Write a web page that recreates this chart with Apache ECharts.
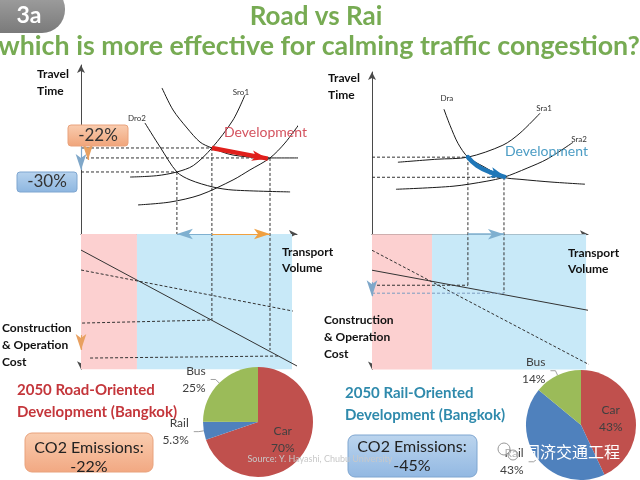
<!DOCTYPE html>
<html><head><meta charset="utf-8">
<script src="https://cdn.jsdelivr.net/npm/echarts@6.0.0/dist/echarts.min.js"></script>
<style>html,body{margin:0;padding:0;background:#fff}#c{width:640px;height:480px}</style>
</head><body><div id="c"></div>
<script>
// ---------- data (x = transport volume, y>0 = travel time, y<0 = cost) ----------
// Road side
const sro1 = [[22.7,33.7],[35,34.5],[44.4,36.7],[52,40.5],[60.6,50.9],[70.4,67.5],[75.9,82.2]];
const sro2 = [[26.4,17.2],[41.2,18.9],[55.1,23.1],[70.4,32.0],[78.2,37.9],[87.5,45.0],[94.4,53.8],[101.4,65.7]];
const dro1 = [[37.5,86.4],[42.6,73.4],[49.1,62.7],[55.1,54.4],[60.6,50.9],[70.4,46.7],[87.5,45.0],[102.3,45.0]];
const dro2 = [[29.6,65.7],[36.6,51.5],[44.4,36.7],[50.5,32.0],[61.1,27.8],[70.4,26.0],[96.8,24.9]];
const roadCostSolid = [[0,-9.5],[100,-78.1]];
const roadCostDashed = [[0,-21.3],[98.1,-45.6]];
const roadGuides = [
  [[0,50.9],[60.6,50.9]], [[0,45.0],[87.5,45.0]], [[0,36.7],[44.4,36.7]],
  [[44.4,36.7],[44.4,0]], [[60.6,50.9],[60.6,-50.9]], [[87.5,45.0],[87.5,-68.6]],
  [[0.5,-52.7],[60.6,-50.9]], [[4.2,-73.4],[92.1,-72.2]]
];
const roadZones = [0, 25.9, 97.7];
// Rail side
const dra = [[33.3,74.0],[36.1,64.5],[39.8,53.8],[44.4,45.6],[51.4,40.2],[61.1,33.7],[68.5,32.5],[83.8,30.8],[98.6,29.6]];
const sra1 = [[12.0,42.6],[30.1,44.4],[44.4,45.6],[60.6,52.7],[68.5,59.8],[77.8,71.6]];
const sra2 = [[11.1,26.6],[37.5,28.4],[53.2,31.4],[61.1,33.7],[71.8,39.1],[81.0,44.4],[93.1,54.4]];
const railCostSolid = [[0,-21.3],[100,-45.0]];
const railCostDashed = [[0,-9.5],[101.9,-78.1]];
const railGuides = [
  [[0,45.6],[44.4,45.6]], [[0,33.7],[61.1,33.7]],
  [[44.4,45.6],[44.4,-30.2]], [[61.1,33.7],[61.1,-34.9]], [[0,-30.2],[44.4,-30.2]]
];
const railBlueGuide = [[0,-34.9],[61.1,-34.9]];
const railDevPath = [[44.4,45.6],[48.6,40.6],[54.6,36.7]];
const railDevTip = [62.0,33.7];
const railZones = [0, 27.8, 99.1];
const costFloor = -80;
// modal shares 2050
const shareNames = ['Car','Rail','Bus'];
const roadShare = [70, 5.3, 25];
const railShare = [43, 43, 14];

// ---------- chart ----------
const FONT = 'Lato, "Open Sans", sans-serif';
const chart = echarts.init(document.getElementById('c'), null, {renderer:'canvas'});

function axisPair(gi, yMax){
  return {
    x: {gridIndex:gi, type:'value', min:0, max:100, axisTick:{show:false}, axisLabel:{show:false}, splitLine:{show:false},
        axisLine:{show:true, onZero:true, symbol:['none','arrow'], symbolSize:[6,8], lineStyle:{color:'#4a4a4a', width:1}}},
    y: {gridIndex:gi, type:'value', min:costFloor, max:yMax, axisTick:{show:false}, axisLabel:{show:false}, splitLine:{show:false},
        axisLine:{show:true, onZero:true, symbol:['arrow','arrow'], symbolSize:[6,8], lineStyle:{color:'#4a4a4a', width:1}}}
  };
}
const a0 = axisPair(0, 100), a1 = axisPair(1, 96);

function curve(gi, data, name, atEnd, offset){
  const s = {type:'line', xAxisIndex:gi, yAxisIndex:gi, data:data, smooth:0.3, showSymbol:false, symbol:'none',
    clip:false, silent:true, lineStyle:{color:'#1a1a1a', width:1}, z:3};
  if (name){
    const p = atEnd ? data[data.length-1] : data[0];
    s.markPoint = {symbol:'circle', symbolSize:1, itemStyle:{color:'rgba(0,0,0,0)'}, silent:true,
      data:[{coord:p, label:{show:true, formatter:name, position:'inside', offset:offset, fontSize:8, color:'#333', fontFamily:FONT}}]};
  }
  return s;
}
function seg(gi, data, dashed, color){
  return {type:'line', xAxisIndex:gi, yAxisIndex:gi, data:data, showSymbol:false, symbol:'none', clip:false, silent:true,
    lineStyle:{color:color||'#333', width:1, type: dashed ? [3,2] : 'solid'}, z:2};
}
function arrow(from, to, color, width, size){
  return [{coord:from, lineStyle:{color:color, width:width, type:'solid'}, symbolSize:size},{coord:to}];
}

const series = [];
function zoneSeries(gi, zones, arrows){
  return {type:'line', xAxisIndex:gi, yAxisIndex:gi, data:[], silent:true,
    markArea:{silent:true, data:[
      [{coord:[zones[0],0], itemStyle:{color:'#fcd0d0'}},{coord:[zones[1],costFloor]}],
      [{coord:[zones[1],0], itemStyle:{color:'#c8e9f8'}},{coord:[zones[2],costFloor]}]
    ]},
    markLine:{silent:true, symbol:['none','arrow'], label:{show:false}, animation:false, data:arrows}, z:1};
}
series.push(zoneSeries(0, roadZones, [
  arrow([60.6,0],[44.4,0],'#7fb0d0',1.2,[0,8]),
  arrow([60.6,0],[87.5,0],'#f0a040',1.2,[0,8]),
  arrow([0,52.7],[0,37.9],'#7fa7c9',1.2,[0,7]),
  arrow([3.2,48.5],[3.2,43.8],'#e8a060',1.2,[0,6]),
  arrow([0,-59.8],[0,-68.6],'#e8a060',1.2,[0,6]),
  arrow([60.6,50.9],[86.5,44.6],'#e0201c',4.5,[0,16])
]));
series.push(zoneSeries(1, railZones, [
  arrow([44.4,0],[61.1,0],'#7fb0d0',1.5,[0,9]),
  arrow([0,-28.4],[0,-36.7],'#7fa7c9',1.2,[0,7])
]));
// curved development arrow (rail): smooth body + arrow head
series.push({type:'line', xAxisIndex:1, yAxisIndex:1, data:railDevPath, smooth:0.5, showSymbol:false, symbol:'none',
  clip:false, silent:true, z:4, lineStyle:{color:'#1f77b8', width:4.5, cap:'round'},
  markLine:{silent:true, symbol:['none','arrow'], label:{show:false}, animation:false,
    data:[arrow(railDevPath[railDevPath.length-1], railDevTip, '#1f77b8', 4.5, [0,15])]}});
series.push(curve(0, sro1, 'Sro1', true, [-4,-3]));
series.push(curve(0, sro2, 'Sro2', true, [2,-8]));
series.push(curve(0, dro1, null));
series.push(curve(0, dro2, 'Dro2', false, [-8,-5]));
series.push(seg(0, roadCostSolid, false, '#333'));
series.push(seg(0, roadCostDashed, true));
roadGuides.forEach(g => series.push(seg(0, g, true)));
series.push(curve(1, dra, 'Dra', false, [3,-11]));
series.push(curve(1, sra1, 'Sra1', true, [4,-5]));
series.push(curve(1, sra2, 'Sra2', true, [6,-3]));
series.push(seg(1, railCostSolid, false, '#333'));
series.push(seg(1, railCostDashed, true));
railGuides.forEach(g => series.push(seg(1, g, true)));
series.push(seg(1, railBlueGuide, true, '#7a9cc0'));

const pieColors = {Car:'#c0504d', Rail:'#4f81bd', Bus:'#9bbb59'};
function pie(center, r, vals){
  return {type:'pie', center:center, radius:r, startAngle:90, clockwise:true, silent:true, avoidLabelOverlap:false,
    data: shareNames.map((n,i)=>({name:n, value:vals[i], itemStyle:{color:pieColors[n]},
      label: n==='Car' ? {position:'inside'} : {position:'outside'}})),
    label:{formatter:'{b}\n{c}%', fontSize:12, lineHeight:17, color:'#404040', fontFamily:FONT},
    labelLine:{length:5, length2:5, lineStyle:{color:'#888', width:0.8}}, z:5};
}
series.push(pie([258,422], 55, roadShare));
series.push(pie([581,425], 55, railShare));

function T(x, y, text, font, fill, align, extra){
  return Object.assign({type:'text', x:x, y:y, z:50, silent:true,
    style:Object.assign({text:text, font:font, fill:fill, textAlign:align||'left', textVerticalAlign:'middle'}, extra||{})});
}
function box(x, y, w, h, r, c1, c2, stroke){
  return {type:'rect', z:40, silent:true, shape:{x:x, y:y, width:w, height:h, r:r},
    style:{fill:{type:'linear', x:0, y:0, x2:0, y2:1, colorStops:[{offset:0,color:c1},{offset:1,color:c2}]}, stroke:stroke, lineWidth:1}};
}
const B = 'bold 12px ' + FONT;
const graphic = [
  {type:'rect', z:40, silent:true, shape:{x:-30, y:-14, width:95, height:47, r:23},
    style:{fill:{type:'linear', x:0, y:0, x2:0, y2:1, colorStops:[{offset:0,color:'#a8a8a8'},{offset:1,color:'#7a7a7a'}]}}},
  T(29, 16, '3a', 'bold 23px ' + FONT, '#fff', 'center'),
  T(316, 17, 'Road vs Rai', 'bold 26px ' + FONT, '#77ab53', 'center'),
  T(319, 46, 'which is more effective for calming traffic congestion?', 'bold 26.8px ' + FONT, '#77ab53', 'center'),
  T(37, 74, 'Travel', B, '#111'), T(37, 91, 'Time', B, '#111'),
  T(328, 78, 'Travel', B, '#111'), T(328, 95, 'Time', B, '#111'),
  T(282, 252, 'Transport', B, '#111'), T(282, 268, 'Volume', B, '#111'),
  T(568, 253, 'Transport', B, '#111'), T(568, 269, 'Volume', B, '#111'),
  T(2, 328, 'Construction', B, '#111'), T(2, 345, '& Operation', B, '#111'), T(2, 362, 'Cost', B, '#111'),
  T(324, 320, 'Construction', B, '#111'), T(324, 337, '& Operation', B, '#111'), T(324, 354, 'Cost', B, '#111'),
  box(68, 125, 60, 21, 3, '#f9cdb0', '#f0a47a', '#e9a27c'),
  T(98, 136, '-22%', '17px ' + FONT, '#333', 'center'),
  box(17, 172, 60, 20, 3, '#b7d3ee', '#8db6e0', '#7fa6d0'),
  T(47, 182, '-30%', '17px ' + FONT, '#333', 'center'),
  T(224, 132, 'Development', '14px ' + FONT, '#d4535f', 'left'),
  T(505, 151, 'Development', '14px ' + FONT, '#4b9cc4', 'left'),
  T(17, 390, '2050 Road-Oriented', 'bold 15px ' + FONT, '#c4363b'),
  T(17, 412, 'Development (Bangkok)', 'bold 15px ' + FONT, '#c4363b'),
  T(345, 393, '2050 Rail-Oriented', 'bold 15px ' + FONT, '#2f8aac'),
  T(345, 415, 'Development (Bangkok)', 'bold 15px ' + FONT, '#2f8aac'),
  box(25, 433, 128, 39, 7, '#f9cdb0', '#f2a882', '#e9a27c'),
  T(89, 448, 'CO2 Emissions:', '16px ' + FONT, '#222', 'center'),
  T(89, 467, '-22%', '16px ' + FONT, '#222', 'center'),
  box(348, 435, 129, 42, 7, '#bcd5ee', '#92b8e2', '#7fa6d0'),
  T(412, 447, 'CO2 Emissions:', '16px ' + FONT, '#222', 'center'),
  T(412, 466, '-45%', '16px ' + FONT, '#222', 'center'),
  T(320, 459, 'Source: Y. Hayashi, Chubu University', '9px ' + FONT, '#c8c8c8', 'center'),
  {type:'circle', z:60, silent:true, shape:{cx:504, cy:449, r:6}, style:{fill:'rgba(255,255,255,0.6)', stroke:'#999', lineWidth:1}},
  {type:'circle', z:60, silent:true, shape:{cx:513, cy:455, r:5}, style:{fill:'rgba(255,255,255,0.6)', stroke:'#999', lineWidth:1}},
  T(572, 452, '同济交通工程', '16px "Noto Sans CJK SC"', '#ffffff', 'center', {shadowColor:'rgba(0,0,0,0.7)', shadowBlur:2})
];

chart.setOption({
  animation:false,
  backgroundColor:'#ffffff',
  grid:[
    {left:81, top:65, width:216, height:304.2, containLabel:false},
    {left:372, top:72, width:216, height:297.4, containLabel:false}
  ],
  xAxis:[a0.x, a1.x],
  yAxis:[a0.y, a1.y],
  series:series,
  graphic:graphic
});
</script></body></html>
